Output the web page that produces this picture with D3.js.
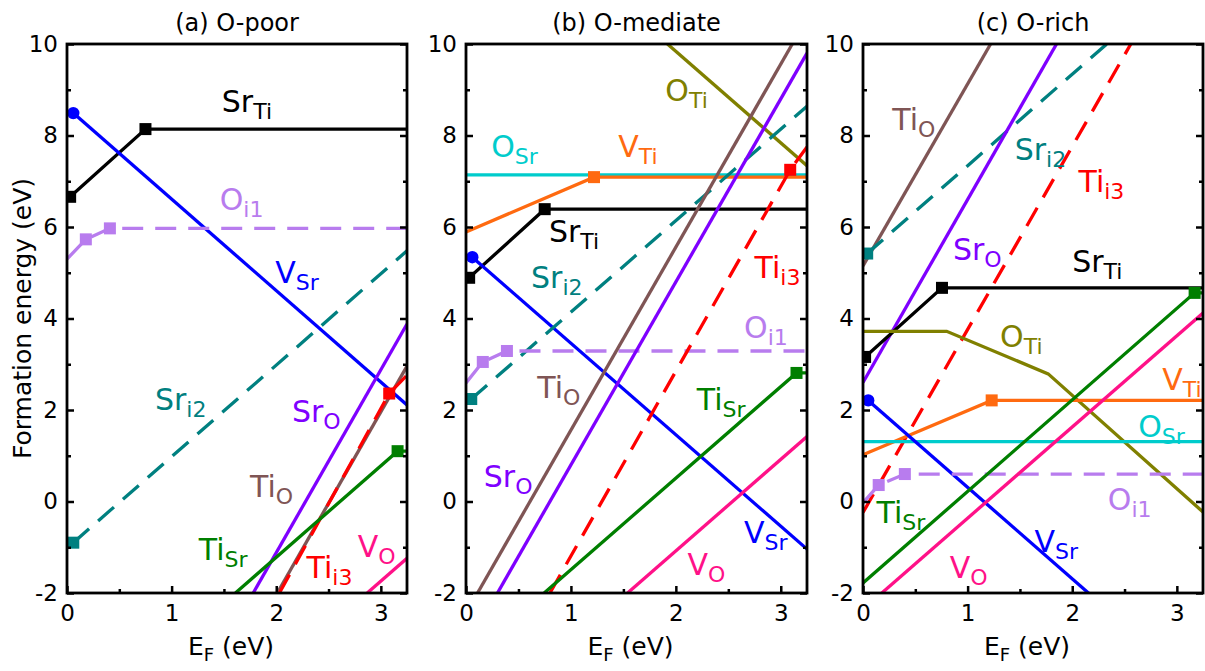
<!DOCTYPE html>
<html><head><meta charset="utf-8">
<script src="https://cdn.jsdelivr.net/npm/d3@7/dist/d3.min.js"></script>
<style>
body{margin:0;background:#fff;}
svg{display:block;font-family:"DejaVu Sans",Verdana,sans-serif;}
</style></head>
<body><svg id="chart" width="1205" height="671"></svg>
<script>
// ---------- data ----------
const panelTitles = ["(a) O-poor", "(b) O-mediate", "(c) O-rich"];
const xTicks = [0, 1, 2, 3];
const xMinor = [0.5, 1.5, 2.5];
const yTicks = [-2, 0, 2, 4, 6, 8, 10];
const yMinor = [-1, 1, 3, 5, 7, 9];
const xDomain = [0, 3.25];
const yDomain = [-2, 10];

const colors = {
  SrTi: "#000000", VSr: "#0000ff", Oi1: "#b87cee", Sri2: "#008080",
  SrO: "#7f00ff", TiO: "#7f5555", Tii3: "#ff0000", TiSr: "#007f00",
  VO: "#ff1188", OSr: "#00cccc", VTi: "#ff6a10", OTi: "#808000"
};
const dashed = {Oi1: true, Sri2: true, Tii3: true};

// series points [x (eV), formation energy (eV)] per panel
const panelA = {
  SrTi: [[0, 6.60], [0.03, 6.66], [0.75, 8.14], [3.25, 8.14]],
  VSr: [[0.06, 8.49], [3.25, 2.11]],
  Oi1: [[0, 5.30], [0.18, 5.73], [0.41, 5.97], [3.25, 5.97]],
  Sri2: [[0.06, -0.90], [3.25, 5.48]],
  SrO: [[1.78, -2], [3.25, 3.88]],
  TiO: [[2.01, -2], [3.25, 2.96]],
  Tii3: [[2.03, -2], [3.08, 2.36], [3.25, 2.76]],
  TiSr: [[1.61, -2], [3.16, 1.10], [3.25, 1.10]],
  VO: [[2.87, -2], [3.25, -1.24]]
};
const panelB = {
  OTi: [[1.92, 10], [3.25, 7.34]],
  OSr: [[0, 7.14], [3.25, 7.14]],
  VTi: [[0, 5.89], [1.22, 7.09], [3.25, 7.09]],
  SrTi: [[0, 4.85], [0.03, 4.89], [0.75, 6.39], [3.25, 6.39]],
  VSr: [[0.06, 5.34], [3.25, -1.04]],
  Sri2: [[0.05, 2.24], [3.25, 8.64]],
  Oi1: [[0, 2.59], [0.16, 3.05], [0.39, 3.29], [3.25, 3.29]],
  TiO: [[0.11, -2], [3.11, 10]],
  SrO: [[0.30, -2], [3.25, 9.8]],
  Tii3: [[0.80, -2], [3.09, 7.25], [3.25, 7.75]],
  TiSr: [[0.745, -2], [3.15, 2.81], [3.25, 2.81]],
  VO: [[1.54, -2], [3.25, 1.42]]
};
const panelC = {
  TiO: [[0, 5.15], [1.22, 10]],
  Sri2: [[0.04, 5.42], [2.33, 10]],
  SrO: [[0, 2.6], [1.85, 10]],
  Tii3: [[0, -0.24], [2.56, 10]],
  SrTi: [[0, 3.12], [0.02, 3.16], [0.755, 4.67], [3.25, 4.67]],
  OTi: [[0, 3.72], [0.80, 3.72], [1.77, 2.79], [3.25, -0.23]],
  VTi: [[0, 1.02], [1.23, 2.21], [3.25, 2.21]],
  OSr: [[0, 1.31], [3.25, 1.31]],
  VSr: [[0.05, 2.21], [3.25, -4.19]],
  Oi1: [[0, -0.03], [0.15, 0.36], [0.40, 0.60], [3.25, 0.60]],
  TiSr: [[0, -1.78], [3.17, 4.56], [3.25, 4.56]],
  VO: [[0.18, -2], [3.25, 4.12]]
};
// transition-level markers: [series, x, y, shape]
const markersA = [["SrTi", 0.03, 6.66, "s"], ["SrTi", 0.75, 8.14, "s"], ["VSr", 0.06, 8.49, "c"],
  ["Oi1", 0.18, 5.73, "s"], ["Oi1", 0.41, 5.97, "s"], ["Sri2", 0.06, -0.90, "s"],
  ["Tii3", 3.08, 2.36, "s"], ["TiSr", 3.16, 1.10, "s"]];
const markersB = [["SrTi", 0.03, 4.89, "s"], ["SrTi", 0.75, 6.39, "s"], ["VSr", 0.06, 5.34, "c"],
  ["VTi", 1.22, 7.09, "s"], ["Sri2", 0.05, 2.24, "s"], ["Oi1", 0.16, 3.05, "s"], ["Oi1", 0.39, 3.29, "s"],
  ["Tii3", 3.09, 7.25, "s"], ["TiSr", 3.15, 2.81, "s"]];
const markersC = [["SrTi", 0.02, 3.16, "s"], ["SrTi", 0.755, 4.67, "s"], ["VSr", 0.05, 2.21, "c"],
  ["VTi", 1.23, 2.21, "s"], ["Sri2", 0.04, 5.42, "s"], ["Oi1", 0.15, 0.36, "s"], ["Oi1", 0.40, 0.60, "s"],
  ["TiSr", 3.17, 4.56, "s"]];
// labels: [series, main, subscript, x (eV), y (eV)] (baseline-left anchor)
const labelsA = [["SrTi","Sr","Ti",1.48,8.51],["Oi1","O","i1",1.46,6.37],["VSr","V","Sr",1.99,4.78],
  ["Sri2","Sr","i2",0.84,2.0],["SrO","Sr","O",2.15,1.74],["TiO","Ti","O",1.75,0.10],
  ["TiSr","Ti","Sr",1.26,-1.28],["Tii3","Ti","i3",2.29,-1.67],["VO","V","O",2.78,-1.21]];
const labelsB = [["OTi","O","Ti",1.90,8.75],["OSr","O","Sr",0.24,7.53],["VTi","V","Ti",1.45,7.53],
  ["SrTi","Sr","Ti",0.79,5.67],["Sri2","Sr","i2",0.62,4.67],["Tii3","Ti","i3",2.75,4.89],
  ["Oi1","O","i1",2.65,3.57],["TiO","Ti","O",0.68,2.26],["SrO","Sr","O",0.17,0.32],
  ["TiSr","Ti","Sr",2.20,2.0],["VSr","V","Sr",2.65,-0.91],["VO","V","O",2.11,-1.61]];
const labelsC = [["TiO","Ti","O",0.28,8.12],["Sri2","Sr","i2",1.45,7.46],["Tii3","Ti","i3",2.06,6.77],
  ["SrO","Sr","O",0.86,5.28],["SrTi","Sr","Ti",2.0,5.02],["OTi","O","Ti",1.31,3.38],
  ["VTi","V","Ti",2.86,2.44],["OSr","O","Sr",2.63,1.41],["TiSr","Ti","Sr",0.13,-0.47],
  ["Oi1","O","i1",2.34,-0.19],["VSr","V","Sr",1.64,-1.10],["VO","V","O",0.83,-1.67]];

const panels = [
  {title: panelTitles[0], series: panelA, markers: markersA, labels: labelsA, left: 67, right: 407},
  {title: panelTitles[1], series: panelB, markers: markersB, labels: labelsB, left: 466, right: 807},
  {title: panelTitles[2], series: panelC, markers: markersC, labels: labelsC, left: 863, right: 1203}
];
const plotTop = 44, plotBottom = 593;
const fmt = d => String(d);

// ---------- drawing ----------
const svg = d3.select("#chart");
panels.forEach((p, i) => {
  const x = d3.scaleLinear().domain(xDomain).range([p.left, p.right]);
  const y = d3.scaleLinear().domain(yDomain).range([plotBottom, plotTop]);
  const g = svg.append("g");
  const clipId = "clip" + i;
  svg.append("clipPath").attr("id", clipId).append("rect")
    .attr("x", p.left).attr("y", plotTop).attr("width", p.right - p.left).attr("height", plotBottom - plotTop);

  const line = d3.line().x(d => x(d[0])).y(d => y(d[1]));
  const plot = g.append("g").attr("clip-path", `url(#${clipId})`);
  Object.entries(p.series).forEach(([k, pts]) => {
    plot.append("path").attr("d", line(pts)).attr("fill", "none")
      .attr("stroke", colors[k]).attr("stroke-width", 3.3)
      .attr("stroke-dasharray", dashed[k] ? "21,12" : null);
  });
  p.markers.forEach(([k, mx, my, shape]) => {
    if (shape === "c") {
      plot.append("circle").attr("cx", x(mx)).attr("cy", y(my)).attr("r", 6.2).attr("fill", colors[k]);
    } else {
      plot.append("rect").attr("x", x(mx) - 6).attr("y", y(my) - 6)
        .attr("width", 12).attr("height", 12).attr("fill", colors[k]);
    }
  });
  p.labels.forEach(([k, main, sub, lx, ly]) => {
    const t = g.append("text").attr("x", x(lx)).attr("y", y(ly)).attr("fill", colors[k])
      .attr("font-size", 30);
    t.append("tspan").text(main);
    t.append("tspan").attr("font-size", 22).attr("dy", 7).text(sub);
  });

  // axes
  g.append("g").attr("transform", `translate(0,${plotBottom})`)
    .call(d3.axisBottom(x).tickValues(xTicks).tickFormat(fmt).tickSizeInner(-7).tickSizeOuter(0).tickPadding(12));
  g.append("g").attr("transform", `translate(0,${plotBottom})`)
    .call(d3.axisBottom(x).tickValues(xMinor).tickFormat("").tickSizeInner(-4).tickSizeOuter(0));
  g.append("g").attr("transform", `translate(${p.left},0)`)
    .call(d3.axisLeft(y).tickValues(yTicks).tickFormat(fmt).tickSizeInner(-7).tickSizeOuter(0).tickPadding(9));
  g.append("g").attr("transform", `translate(${p.left},0)`)
    .call(d3.axisLeft(y).tickValues(yMinor).tickFormat("").tickSizeInner(-4).tickSizeOuter(0));
  g.append("g").attr("transform", `translate(${p.right},0)`)
    .call(d3.axisRight(y).tickValues(yTicks).tickFormat("").tickSizeInner(-7).tickSizeOuter(0));
  g.append("g").attr("transform", `translate(${p.right},0)`)
    .call(d3.axisRight(y).tickValues(yMinor).tickFormat("").tickSizeInner(-4).tickSizeOuter(0));
  g.selectAll(".tick line").attr("stroke", "#000").attr("stroke-width", 2.5);
  g.selectAll(".domain").remove();
  g.selectAll(".tick text").attr("font-size", 23).attr("font-family", "DejaVu Sans").attr("fill", "#000");

  g.append("rect").attr("x", p.left).attr("y", plotTop).attr("width", p.right - p.left)
    .attr("height", plotBottom - plotTop).attr("fill", "none").attr("stroke", "#000").attr("stroke-width", 2.8);

  g.append("text").attr("x", (p.left + p.right) / 2).attr("y", 31).attr("text-anchor", "middle")
    .attr("font-size", 24).text(p.title);

  const xl = g.append("text").attr("x", (p.left + p.right) / 2 - 6).attr("y", 655)
    .attr("text-anchor", "middle").attr("font-size", 25);
  xl.append("tspan").text("E");
  xl.append("tspan").attr("font-size", 18).attr("dy", 6).text("F");
  xl.append("tspan").attr("dy", -6).text(" (eV)");
});

svg.append("text").attr("transform", `translate(31,${(plotTop + plotBottom) / 2}) rotate(-90)`)
  .attr("text-anchor", "middle").attr("font-size", 25).text("Formation energy (eV)");
</script></body></html>
